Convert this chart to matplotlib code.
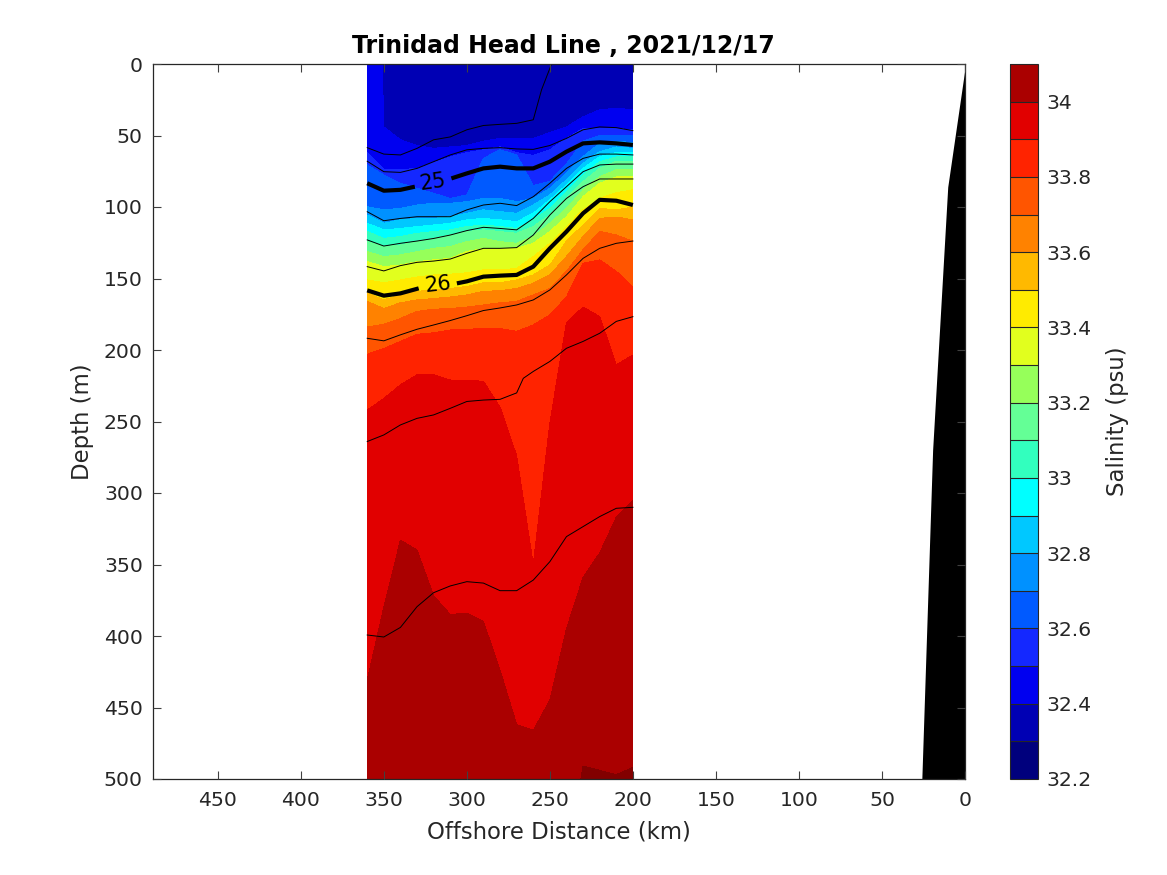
import numpy as np
import matplotlib
matplotlib.use('Agg')
import matplotlib.pyplot as plt
from matplotlib.colors import ListedColormap, BoundaryNorm

# Station distances (km offshore)
stations = [360, 350, 340, 330, 320, 310, 300, 290, 280, 270, 260, 250, 240, 230, 220, 210, 200]

# Salinity levels and the depth (m) of each isohaline at each station
levels = [32.2, 32.3, 32.4, 32.5, 32.6, 32.7, 32.8, 32.9, 33.0, 33.1, 33.2, 33.3, 33.4, 33.5, 33.6, 33.7, 33.8, 33.9, 34.0, 34.1, 34.2]
iso_322 = [-500, -60, -60, -60, -60, -60, -60, -60, -60, -60, -60, -60, -60, -60, -60, -60, -60]
iso_323 = [-450, -30, -30, -30, -30, -30, -30, -30, -30, -30, -30, -30, -30, -30, -30, -30, -30]
iso_324 = [-400, 44, 53, 57, 59, 58, 57, 54, 52, 52, 52, 48, 44, 37, 32, 31, 32]
iso_325 = [62, 74, 74, 73, 69, 65, 62, 60, 58, 62, 64, 60, 52, 45, 45, 45, 46]
iso_326 = [70.6, 77.6, 83.4, 87, 90.4, 94, 91.6, 66, 60, 63.6, 85, 82, 70, 54, 50, 50, 50]
iso_327 = [99.8, 102, 101, 98.6, 97.4, 97.4, 96.3, 94, 94, 96.3, 94, 87, 76.5, 64.8, 55.5, 54, 55]
iso_328 = [105.6, 111.4, 109, 108, 108, 106.8, 104.4, 102, 103.3, 104.4, 98.6, 91.6, 81, 69.5, 61.3, 58, 59]
iso_329 = [111.4, 116, 115, 113.7, 112.6, 111.4, 109, 108, 109, 110.3, 104.4, 95, 84.6, 73, 64.8, 62, 62]
iso_330 = [117.2, 122, 120.7, 118.4, 117.2, 116, 113.7, 112.6, 113.7, 115, 109, 101, 89.3, 77.6, 68.3, 65, 65]
iso_331 = [124.2, 127.7, 126.6, 124.2, 122, 119.6, 117.2, 116, 117.2, 118.4, 113.7, 105.6, 94, 82.3, 73, 68, 68]
iso_332 = [131.2, 134.7, 133.5, 131.2, 128.9, 127.7, 124.2, 122, 124.2, 125.4, 120.7, 111.4, 101, 88, 78.8, 74, 74]
iso_333 = [138.2, 141.7, 140.6, 138.2, 137, 135.9, 131.2, 128.9, 128.9, 128.9, 125.4, 117.2, 106.8, 92.8, 83.4, 79, 79]
iso_334 = [151, 153, 151, 149, 147.5, 147, 146, 144, 144, 143, 134.7, 125.4, 113.7, 102, 94, 90, 88]
iso_335 = [160, 165, 161.5, 159, 158, 157, 155.6, 153, 153, 151, 147.5, 140.6, 124, 112.6, 101, 102, 100]
iso_336 = [166, 171, 167, 165, 164, 163, 161.5, 159, 158.5, 157, 153.4, 147.5, 134.7, 120.7, 108, 107, 109]
iso_337 = [184, 182, 178, 173, 171.5, 171, 170, 168.5, 167, 166, 161.5, 157, 145, 130, 117, 119.6, 124]
iso_338 = [203, 199, 194, 189, 188, 186, 185.5, 185, 185, 187, 182.5, 175.5, 163, 139.4, 137, 145, 156]
iso_339 = [242, 234, 224.4, 217.4, 217.4, 221, 221, 222, 240, 274, 350, 251, 181, 170, 176.6, 210.5, 203.5]
iso_340 = [431, 380, 333, 340, 372, 385, 384, 390, 424, 462, 466, 445, 395, 359, 342, 317, 305]
iso_341 = [560, 560, 560, 560, 560, 560, 560, 560, 560, 560, 560, 560, 560, 491, 494, 497, 492]
iso_342 = [700, 700, 700, 700, 700, 700, 700, 700, 700, 700, 700, 700, 700, 700, 700, 700, 700]

# Density contours: distance (km) and depth (m)
d1_x = [360, 350, 340, 330, 320, 310, 300, 290, 280, 270, 260, 255, 249]
d1_z = [58.5, 63, 63.6, 59, 53, 51, 46, 43, 42.2, 41.5, 39, 18, 0]
d2_z = [68, 75.3, 75.8, 73, 68.3, 63.6, 60, 59, 58.5, 59.4, 59.7, 57, 52, 46, 44, 44.5, 46.6]
d25a_x = [360, 350, 340, 331.3]
d25a_z = [83.4, 88.6, 88, 85.8]
d25b_x = [309.3, 300, 290, 280, 270, 260, 250, 240, 230, 220, 210, 200]
d25b_z = [80, 76.5, 73, 71.8, 73, 73, 68.3, 61.3, 55.5, 54.8, 55.5, 56.6]
d4_z = [103.3, 109.6, 108, 106.8, 106.8, 106.8, 102, 98.6, 97.4, 99, 92.8, 83.4, 73, 66, 63, 63, 63.6]
d5_z = [123, 127.3, 125.4, 123.8, 122, 119.6, 116.5, 114.2, 115, 116, 108, 96.3, 85.8, 75.3, 70.6, 70, 70]
d6_z = [141.7, 144.7, 141, 138.7, 137.8, 136.4, 132.4, 128.9, 128.9, 128.4, 119.6, 105.6, 94, 85.8, 80.4, 80.4, 80.4]
d26a_x = [360, 350, 340, 329]
d26a_z = [158.3, 162, 160.4, 156.9]
d26b_x = [306, 300, 290, 280, 270, 260, 250, 240, 230, 220, 210, 200]
d26b_z = [153.4, 152, 148.7, 148, 147.5, 141.7, 128.9, 117.2, 104.4, 95, 95.6, 98.6]
d8_z = [191.8, 193.6, 189.4, 185.5, 182.5, 179.4, 176, 172.4, 170.6, 168.5, 165, 158, 147.5, 135.9, 128.9, 125.4, 123.8]
d9_x = [360, 350, 340, 330, 320, 310, 300, 290, 280, 270, 266, 260, 250, 240, 230, 220, 210, 200]
d9_z = [264, 259.4, 252.4, 247.8, 245.4, 240.8, 236, 235, 234.5, 230, 219.8, 215, 208, 198.8, 194, 188.3, 180, 176.7]
d10_z = [399.3, 400.7, 394, 379.5, 369.7, 365, 362, 363, 368.3, 368.3, 360.9, 348, 330.5, 323.5, 316.5, 310.7, 310]

# Bottom profile
bottom_x = [0, 10.4, 19.5, 26]
bottom_z = [3, 86, 270, 500]

band_colors = ['#00007d', '#0000b4', '#0000f0', '#1428ff', '#005aff', '#0091ff', '#00c8ff', '#00ffff',
               '#32ffbe', '#64ff96', '#96ff5a', '#e1ff1e', '#ffeb00', '#ffb900', '#ff8200', '#ff5500',
               '#ff2300', '#e10000', '#aa0000', '#820000']

x_ticks = [0, 50, 100, 150, 200, 250, 300, 350, 400, 450]
y_ticks = [0, 50, 100, 150, 200, 250, 300, 350, 400, 450, 500]
cbar_ticks = [32.2, 32.4, 32.6, 32.8, 33.0, 33.2, 33.4, 33.6, 33.8, 34.0]
cbar_labels = ['32.2', '32.4', '32.6', '32.8', '33', '33.2', '33.4', '33.6', '33.8', '34']

W, H = 1167, 875
plt.rcParams['font.family'] = 'DejaVu Sans'
fig = plt.figure(figsize=(W / 100, H / 100), dpi=100)
ax = fig.add_axes([153 / W, (H - 779) / H, 812 / W, 715 / H])
cax = fig.add_axes([1010 / W, (H - 779) / H, 28 / W, 715 / H])
ink = '#262626'

iso = np.array([iso_322, iso_323, iso_324, iso_325, iso_326, iso_327, iso_328, iso_329, iso_330, iso_331,
                iso_332, iso_333, iso_334, iso_335, iso_336, iso_337, iso_338, iso_339, iso_340, iso_341, iso_342])
X = np.tile(np.array(stations, float), (len(levels), 1))
Z = np.tile(np.array(levels)[:, None], (1, len(stations)))
cmap = ListedColormap(band_colors)
norm = BoundaryNorm(levels, cmap.N)
cf = ax.contourf(X, iso, Z, levels=levels, cmap=cmap, norm=norm)

thin = dict(color='k', lw=0.7)
thick = dict(color='k', lw=3.0, solid_capstyle='butt')
ax.plot(d1_x, d1_z, **thin)
ax.plot(stations, d2_z, **thin)
ax.plot(d25a_x, d25a_z, **thick)
ax.plot(d25b_x, d25b_z, **thick)
ax.plot(stations, d4_z, **thin)
ax.plot(stations, d5_z, **thin)
ax.plot(stations, d6_z, **thin)
ax.plot(d26a_x, d26a_z, **thick)
ax.plot(d26b_x, d26b_z, **thick)
ax.plot(stations, d8_z, **thin)
ax.plot(d9_x, d9_z, **thin)
ax.plot(stations, d10_z, **thin)
ax.text(320.5, 82.5, '25', fontsize=15, ha='center', va='center', rotation=8, color='k')
ax.text(317.5, 154.5, '26', fontsize=15, ha='center', va='center', rotation=6, color='k')

ax.fill_betweenx(bottom_z, bottom_x, 0, color='k', lw=0)

ax.set_xlim(489, 0)
ax.set_ylim(500, 0)
ax.set_xticks(x_ticks)
ax.set_yticks(y_ticks)
ax.tick_params(axis='both', direction='in', length=5.8, width=0.8, color='#404040', top=True, right=True,
               labelsize=14.7, labelcolor=ink)
ax.tick_params(axis='x', pad=9)
ax.tick_params(axis='y', pad=7.3)
for s in ax.spines.values():
    s.set_color(ink)
    s.set_linewidth(0.9)
ax.set_axisbelow(False)
ax.set_title('Trinidad Head Line , 2021/12/17', fontsize=17, fontweight='bold', color='k', pad=7.7, x=0.505)
ax.set_xlabel('Offshore Distance (km)', fontsize=16.4, color=ink, labelpad=7)
ax.set_ylabel('Depth (m)', fontsize=16.4, color=ink, labelpad=7)

cb = fig.colorbar(cf, cax=cax, drawedges=True)
cb.ax.set_ylim(32.2, 34.1)
cb.set_ticks(cbar_ticks)
cb.set_ticklabels(cbar_labels)
cb.ax.minorticks_off()
cb.ax.tick_params(which='both', length=0, labelsize=14.7, labelcolor=ink, pad=5.8)
cb.dividers.set_color('#262626')
cb.dividers.set_linewidth(0.8)
cb.outline.set_edgecolor(ink)
cb.outline.set_linewidth(0.8)
cb.set_label('Salinity (psu)', fontsize=16.4, color=ink, labelpad=11)

fig.savefig('out.png', dpi=100)
